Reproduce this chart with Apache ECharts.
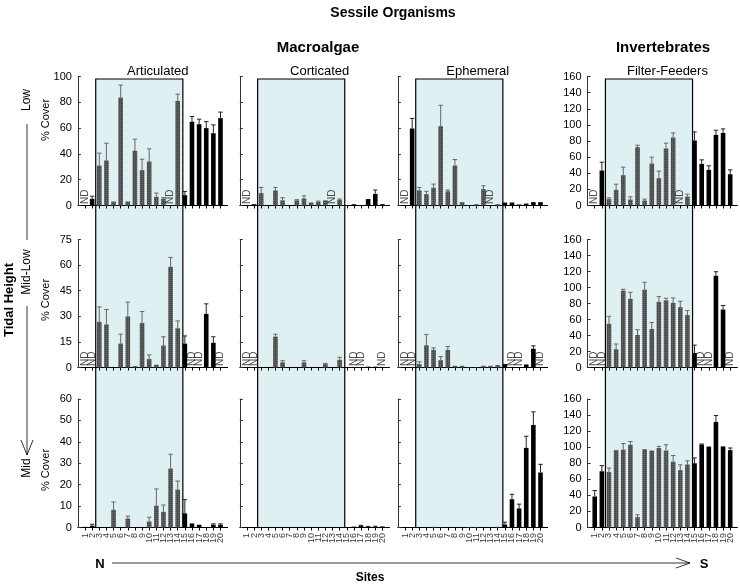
<!DOCTYPE html>
<html><head><meta charset="utf-8">
<script src="https://cdn.jsdelivr.net/npm/echarts@6/dist/echarts.min.js"></script>
<style>html,body{margin:0;padding:0;background:#fff}#c{width:740px;height:587px}</style>
</head><body><div id="c"></div>
<script>
const sites = [1,2,3,4,5,6,7,8,9,10,11,12,13,14,15,16,17,18,19,20];
const panelTitles = ['Articulated','Corticated','Ephemeral','Filter-Feeders'];
const rowNames = ['Low','Mid-Low','Mid'];
const macroMax = [100,75,60];
const macroStep = [20,15,10];
const invMax = 160, invStep = 20;
const shadedFirst = 3, shadedLast = 14;
const shadeFrom = 2.5, shadeTo = 14.72;

// null = ND (no data)
const artLow    = [null,5.2,31,34.9,3.1,83.7,3.1,42.4,27.4,34.1,6.7,5.2,null,81.1,8,64.9,63,60,56,67.7];
const artLowErr = [null,7.2,40.6,48.3,null,93.3,null,51.4,35.9,43.9,9.6,6.2,null,86.3,10.9,69,66.9,65,62.5,72.4];
const artML     = [null,null,26.8,25.2,0,14,29.9,0.8,26,4.9,1.6,12.9,59,23,14,null,null,31.4,14.5,null];
const artMLErr  = [null,null,35.5,34,null,19.5,38.3,null,32.8,7.4,null,18,64.5,27.3,18.5,null,null,37.3,18,null];
const artMid    = [0.3,0.8,0,0,8.3,0,4.2,0,0,2.8,10.2,7.3,27.5,17.7,6.6,1.9,1.3,0,1.3,1.3];
const artMidErr = [null,1.5,null,null,11.9,null,5.3,null,null,4.8,18,10.5,34.2,21.7,13,null,null,null,1.7,1.7];

const corLow    = [null,1,9.6,0,11.7,4,0,4,5.5,2.3,2.8,4,null,4.4,0,1,0,5,9,1];
const corLowErr = [null,null,14,null,14,6,null,4.5,7.5,null,3.4,null,null,5,null,null,null,null,12,null];
const corML     = [null,null,0,0,18.1,3,0,0,3,0,0,2,0,4.5,0,null,null,0.5,0.5,null];
const corMLErr  = [null,null,null,null,19.5,4,null,null,4,null,null,2.4,null,6,null,null,null,null,null,null];
const corMid    = [0,0,0,0,0,0,0,0,0,0,0,0,0,0,0,0.4,0.8,0.2,0.3,0.5];
const corMidErr = [null,null,null,null,null,null,null,null,null,null,null,null,null,null,null,null,1.0,0.5,0.6,null];

const ephLow    = [null,59.7,11.7,8.8,13.8,61.5,11,31,2.6,0.3,1,12.7,null,1,2.3,2.3,0.8,1.5,2.6,2.6];
const ephLowErr = [null,67.5,14,11,16.6,77.7,12,35.6,null,null,null,15.3,null,null,null,null,null,null,null,null];
const ephML     = [null,null,2,13,10.3,4.3,10.3,1,1,0.2,0.2,1,1,1.4,2,null,null,1.8,11,null];
const ephMLErr  = [null,null,3.3,19.3,11.5,6.4,12.3,null,null,null,null,null,null,null,null,null,null,null,12.7,null];
const ephMid    = [0,0,0,0,0.3,0.1,0,0,0,0.2,0.2,0,0,0.3,1.4,13.2,8.9,37.2,47.9,25.7];
const ephMidErr = [null,null,null,null,null,null,null,null,null,null,null,null,null,null,2.5,15.5,10.9,42.6,54,29.5];

const ffLow     = [null,43.4,7.9,19.4,37.6,7.4,72.3,6.2,52,33.9,70.7,84.3,null,11,80.6,51.6,44.2,87.6,90,38.8];
const ffLowErr  = [null,53.7,9.5,26.4,47.5,10.7,74.8,7.9,60,42.6,77.3,90,null,14,91.3,56.6,49.2,93.4,95,44.2];
const ffML      = [null,null,54.7,22.8,96,85.7,40.6,97.3,48,82,84,80.8,75.4,65.5,18.2,null,null,114.7,72.5,null];
const ffMLErr   = [null,null,64,29.4,97.8,94,47.2,106.5,56.3,88.6,86.6,87,82.8,71.2,28,null,null,119.7,77.5,null];
const ffMid     = [38.6,70,69,95.4,97,103,12.9,96.7,95.8,99,95.8,82,71.4,78.4,80,103.3,100.8,131.5,101,96.3];
const ffMidErr  = [46,77,74,96,104.5,107,15.8,97,null,101,103,89.6,78,83,86.7,104,null,139.4,null,99];

const values = [[artLow,corLow,ephLow,ffLow],[artML,corML,ephML,ffML],[artMid,corMid,ephMid,ffMid]];
const errors = [[artLowErr,corLowErr,ephLowErr,ffLowErr],[artMLErr,corMLErr,ephMLErr,ffMLErr],[artMidErr,corMidErr,ephMidErr,ffMidErr]];

// layout
const colZero = [77.9, 239.8, 397.9, 587.6];
const unitW = 7.13;
const rowTop = [76.5, 239.5, 399];
const rowBot = [205.5, 367.5, 527.5];
const FONT = '"Liberation Sans", Arial, sans-serif';
const GRAY = '#4d4d4d', BLACK = '#000';
const hatch = {symbol: 'rect', symbolSize: 1, dashArrayX: [1, 1], dashArrayY: [1, 1], color: 'rgba(255,255,255,0.18)'};

const grids = [], xAxes = [], yAxes = [], series = [];
for (let r = 0; r < 3; r++) {
  for (let c = 0; c < 4; c++) {
    const g = r * 4 + c;
    grids.push({left: colZero[c], top: rowTop[r], width: 21 * unitW, height: rowBot[r] - rowTop[r]});
    xAxes.push({
      type: 'value', gridIndex: g, min: 0, max: 21,
      axisLine: {show: true, onZero: false, lineStyle: {color: '#000', width: 1}},
      axisTick: {show: true, customValues: sites, length: 3, lineStyle: {color: '#000'}},
      axisLabel: {show: false},
      splitLine: {show: false}
    });
    const isInv = c === 3;
    yAxes.push({
      type: 'value', gridIndex: g, min: 0,
      max: isInv ? invMax : macroMax[r], interval: isInv ? invStep : macroStep[r],
      axisLine: {show: true, lineStyle: {color: '#333', width: 1}},
      axisTick: {show: true, inside: true, length: 3, lineStyle: {color: '#333'}},
      axisLabel: {show: c === 0 || c === 3, fontSize: 11, color: '#000', margin: 6, fontFamily: FONT},
      splitLine: {show: false}
    });
    const vals = values[r][c], errs = errors[r][c];
    const barData = [], errData = [], ndData = [];
    sites.forEach((s, i) => {
      const shaded = s >= shadedFirst && s <= shadedLast;
      if (vals[i] == null) { ndData.push([s, 0]); return; }
      barData.push({value: [s, vals[i]], itemStyle: shaded ? {color: GRAY, decal: hatch} : {color: BLACK}});
      if (errs[i] != null) errData.push([s, vals[i], errs[i], shaded ? 1 : 0]);
    });
    series.push({
      type: 'bar', xAxisIndex: g, yAxisIndex: g, barWidth: 4.6, data: barData, z: 3,
      animation: false
    });
    series.push({
      type: 'custom', xAxisIndex: g, yAxisIndex: g, data: errData, z: 4, animation: false,
      renderItem: function (params, api) {
        const x = api.value(0), v = api.value(1), e = api.value(2);
        const col = api.value(3) ? '#666' : '#222';
        const p0 = api.coord([x, v]), p1 = api.coord([x, e]);
        return {type: 'group', children: [
          {type: 'line', shape: {x1: p0[0], y1: p0[1], x2: p1[0], y2: p1[1]}, style: {stroke: col, lineWidth: 1}},
          {type: 'line', shape: {x1: p1[0] - 2.2, y1: p1[1], x2: p1[0] + 2.2, y2: p1[1]}, style: {stroke: col, lineWidth: 1}}
        ]};
      }
    });
    series.push({
      type: 'scatter', xAxisIndex: g, yAxisIndex: g, data: ndData, symbolSize: 1, z: 5,
      itemStyle: {color: 'rgba(0,0,0,0)'}, animation: false, silent: true,
      label: {show: true, formatter: 'ND', rotate: 90, position: 'top', distance: 1,
        align: 'left', verticalAlign: 'middle', fontSize: 10, color: '#222', fontFamily: FONT}
    });
    if (r === 2) {
      // site tick labels along the bottom axis
      series.push({
        type: 'scatter', xAxisIndex: g, yAxisIndex: g, data: sites.map(s => [s, 0]), symbolSize: 1, z: 5,
        itemStyle: {color: 'rgba(0,0,0,0)'}, animation: false, silent: true, clip: false,
        label: {show: true, formatter: p => String(p.value[0]), rotate: 90, position: 'bottom', distance: 5,
          align: 'right', verticalAlign: 'middle', fontSize: 9, color: '#000', fontFamily: FONT}
      });
    }
  }
}

const chart = echarts.init(document.getElementById('c'), null, {renderer: 'canvas'});
chart.setOption({
  animation: false,
  backgroundColor: '#fff',
  grid: grids, xAxis: xAxes, yAxis: yAxes, series: series
});

// decorations
const gfx = [];
for (let c = 0; c < 4; c++) {
  const topMax = c === 3 ? invMax : macroMax[0];
  const pTop = chart.convertToPixel({gridIndex: c}, [shadeFrom, topMax]);
  const pRight = chart.convertToPixel({gridIndex: c}, [shadeTo, topMax]);
  const pBot = chart.convertToPixel({gridIndex: 8 + c}, [shadeFrom, 0]);
  gfx.push({type: 'rect', z: -10, silent: true,
    shape: {x: pTop[0], y: pTop[1] + 2.5, width: pRight[0] - pTop[0], height: pBot[1] - pTop[1] - 2.5},
    style: {fill: '#dff0f2', stroke: '#000', lineWidth: 1.2}});
  const mid = chart.convertToPixel({gridIndex: c}, [10.5, topMax]);
  gfx.push({type: 'text', z: 10, x: mid[0] + 5, y: pTop[1] - 5,
    style: {text: panelTitles[c], font: '13px ' + FONT, fill: '#000', align: 'center', verticalAlign: 'middle'}});
}
const txt = (t, x, y, size, bold, rot) => ({type: 'text', x: x, y: y, rotation: rot || 0, z: 10,
  style: {text: t, font: (bold ? 'bold ' : '') + size + 'px ' + FONT, fill: '#000', align: 'center', verticalAlign: 'middle'}});
gfx.push(txt('Sessile Organisms', 393, 13, 14, true));
gfx.push(txt('Macroalgae', 318, 48, 15, true));
gfx.push(txt('Invertebrates', 663, 48, 15, true));
gfx.push(txt('Sites', 370, 578, 12, true));
gfx.push(txt('N', 100, 564, 13, true));
gfx.push(txt('S', 704, 564, 13, true));
gfx.push(txt('Tidal Height', 9, 300, 13, true, Math.PI / 2));
const rowLabelY = [100, 272, 468];
const coverY = [120, 300, 470];
for (let r = 0; r < 3; r++) {
  gfx.push(txt(rowNames[r], 27, rowLabelY[r], 12, false, Math.PI / 2));
  gfx.push(txt('% Cover', 46, coverY[r], 11, false, Math.PI / 2));
}
// left arrow
gfx.push({type: 'line', shape: {x1: 27, y1: 124, x2: 27, y2: 240}, style: {stroke: '#000', lineWidth: 0.8}});
gfx.push({type: 'line', shape: {x1: 27, y1: 306, x2: 27, y2: 455}, style: {stroke: '#000', lineWidth: 0.8}});
gfx.push({type: 'polyline', shape: {points: [[21, 440], [27, 455], [33, 440]]}, style: {stroke: '#000', fill: null, lineWidth: 0.8}});
// bottom arrow
gfx.push({type: 'line', shape: {x1: 112, y1: 563, x2: 690, y2: 563}, style: {stroke: '#000', lineWidth: 0.8}});
gfx.push({type: 'polyline', shape: {points: [[676, 558], [690, 563], [676, 568]]}, style: {stroke: '#000', fill: null, lineWidth: 0.8}});
chart.setOption({graphic: {elements: gfx}});
</script></body></html>
